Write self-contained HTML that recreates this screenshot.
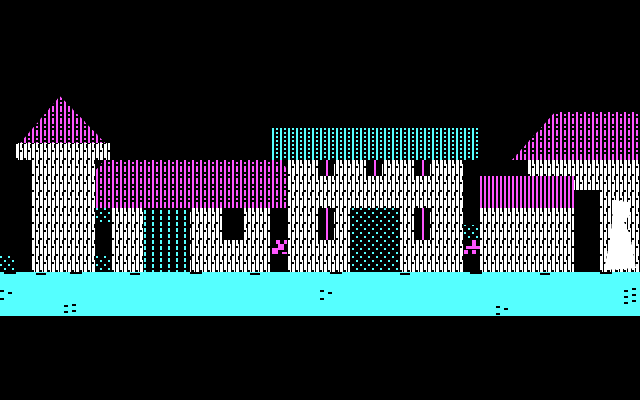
<!DOCTYPE html>
<html><head><meta charset="utf-8"><style>html,body{margin:0;padding:0;background:#000;width:640px;height:400px;overflow:hidden}</style></head>
<body>
<svg width="640" height="400" viewBox="0 0 640 400" xmlns="http://www.w3.org/2000/svg" shape-rendering="crispEdges">
<defs>
<pattern id="wall" width="8" height="16" patternUnits="userSpaceOnUse">
<rect width="8" height="16" fill="#000"/>
<rect x="0" y="0" width="2" height="14" fill="#fff"/>
<rect x="4" y="0" width="2" height="6" fill="#fff"/>
<rect x="4" y="8" width="2" height="8" fill="#fff"/>
<rect x="2" y="0" width="1" height="16" fill="#fff"/>
<rect x="6" y="4" width="1" height="12" fill="#fff"/>
</pattern>
<pattern id="mag" width="8" height="12" patternUnits="userSpaceOnUse">
<rect width="8" height="12" fill="#000"/>
<rect x="0" y="0" width="2" height="12" fill="#f5f"/>
<rect x="4" y="0" width="2" height="4" fill="#f5f"/>
<rect x="4" y="6" width="2" height="2" fill="#f5f"/>
<rect x="4" y="10" width="2" height="2" fill="#f5f"/>
</pattern>
<pattern id="magS" width="4" height="4" patternUnits="userSpaceOnUse">
<rect width="4" height="4" fill="#000"/><rect width="2" height="4" fill="#f5f"/>
</pattern>
<pattern id="cya" width="8" height="8" patternUnits="userSpaceOnUse">
<rect width="8" height="8" fill="#000"/>
<rect x="0" y="0" width="2" height="8" fill="#5ff"/>
<rect x="4" y="0" width="2" height="2" fill="#5ff"/>
<rect x="4" y="4" width="2" height="2" fill="#5ff"/>
</pattern>
<pattern id="dots" width="8" height="8" patternUnits="userSpaceOnUse">
<rect width="8" height="8" fill="#000"/>
<rect x="0" y="0" width="2" height="2" fill="#5ff"/>
<rect x="4" y="4" width="2" height="2" fill="#5ff"/>
</pattern>
<pattern id="vdots" width="8" height="6" patternUnits="userSpaceOnUse">
<rect width="8" height="6" fill="#000"/>
<rect x="0" y="0" width="2" height="4" fill="#5ff"/>
</pattern>
</defs>
<rect width="640" height="400" fill="#000"/>
<polygon points="60,96 110,148 16,148" fill="url(#mag)"/>
<rect x="16" y="143" width="94" height="17" fill="url(#wall)"/>
<rect x="32" y="160" width="64" height="112" fill="url(#wall)"/>
<polygon points="104,160 282,160 287,170 287,208 96,208 96,170" fill="url(#mag)"/>
<rect x="112" y="208" width="32" height="64" fill="url(#wall)"/>
<rect x="144" y="208" width="46" height="64" fill="url(#vdots)"/>
<rect x="190" y="208" width="32" height="64" fill="url(#wall)"/>
<rect x="222" y="240" width="21" height="32" fill="url(#wall)"/>
<rect x="243" y="208" width="27" height="64" fill="url(#wall)"/>
<rect x="96" y="208" width="16" height="14" fill="url(#dots)"/>
<rect x="96" y="256" width="16" height="16" fill="url(#dots)"/>
<rect x="0" y="256" width="16" height="16" fill="url(#dots)"/>
<g fill="#f5f"><rect x="276" y="240" width="4" height="4"/><rect x="284" y="240" width="4" height="4"/><rect x="278" y="244" width="6" height="6"/><rect x="272" y="248" width="6" height="6"/><rect x="282" y="252" width="6" height="2"/></g>
<rect x="272" y="128" width="206" height="32" fill="url(#cya)"/>
<rect x="287" y="160" width="176" height="112" fill="url(#wall)"/>
<rect x="350" y="208" width="50" height="64" fill="url(#dots)"/>
<rect x="318" y="160" width="16" height="16" fill="#000"/><rect x="326" y="160" width="2" height="16" fill="#f5f"/>
<rect x="366" y="160" width="16" height="16" fill="#000"/><rect x="374" y="160" width="2" height="16" fill="#f5f"/>
<rect x="414" y="160" width="16" height="16" fill="#000"/><rect x="422" y="160" width="2" height="16" fill="#f5f"/>
<rect x="318" y="208" width="16" height="32" fill="#000"/><rect x="326" y="208" width="2" height="32" fill="#f5f"/>
<rect x="414" y="208" width="16" height="32" fill="#000"/><rect x="422" y="208" width="2" height="32" fill="#f5f"/>
<rect x="464" y="225" width="16" height="14" fill="url(#dots)"/>
<g fill="#f5f"><rect x="472" y="240" width="4" height="6"/><rect x="466" y="246" width="14" height="3"/><rect x="464" y="250" width="4" height="4"/><rect x="472" y="250" width="4" height="4"/></g>
<polygon points="512,160 555,112 640,112 640,160" fill="url(#mag)"/>
<rect x="528" y="160" width="112" height="112" fill="url(#wall)"/>
<rect x="480" y="176" width="94" height="32" fill="url(#magS)"/>
<rect x="480" y="208" width="94" height="64" fill="url(#wall)"/>
<rect x="574" y="190" width="26" height="82" fill="#000"/>
<path d="M614,200 L628,202 L630,215 L624,222 L630,235 L636,268 L604,270 L610,240 L612,222 Z" fill="#fff"/>
<rect x="0" y="272" width="640" height="44" fill="#5ff"/>
<g fill="#000">
<rect x="4" y="272" width="12" height="2"/><rect x="36" y="273" width="10" height="2"/><rect x="70" y="272" width="12" height="2"/><rect x="130" y="273" width="10" height="2"/><rect x="190" y="272" width="12" height="2"/><rect x="250" y="273" width="10" height="2"/><rect x="330" y="272" width="12" height="2"/><rect x="400" y="273" width="10" height="2"/><rect x="470" y="272" width="12" height="2"/><rect x="540" y="273" width="10" height="2"/><rect x="600" y="272" width="12" height="2"/>
<rect x="0" y="290" width="4" height="2"/><rect x="8" y="292" width="4" height="2"/><rect x="0" y="298" width="4" height="2"/>
<rect x="64" y="305" width="4" height="2"/><rect x="72" y="304" width="4" height="2"/><rect x="64" y="311" width="4" height="2"/><rect x="72" y="310" width="4" height="2"/>
<rect x="320" y="290" width="4" height="2"/><rect x="328" y="292" width="4" height="2"/><rect x="320" y="298" width="4" height="2"/>
<rect x="496" y="306" width="4" height="2"/><rect x="504" y="308" width="4" height="2"/><rect x="496" y="313" width="4" height="2"/>
<rect x="624" y="290" width="4" height="2"/><rect x="632" y="288" width="4" height="2"/><rect x="624" y="296" width="4" height="2"/><rect x="632" y="294" width="4" height="2"/><rect x="624" y="302" width="4" height="2"/><rect x="632" y="300" width="4" height="2"/>
</g>
</svg>
</body></html>
